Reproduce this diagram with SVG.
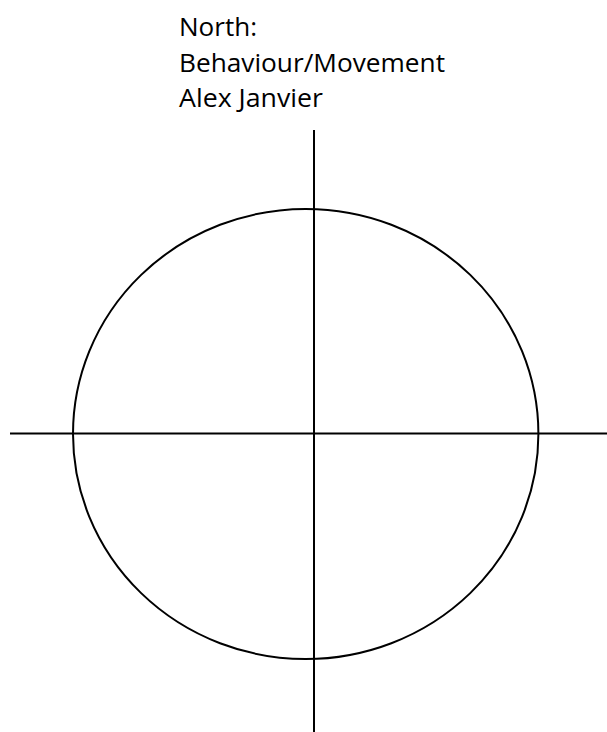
<svg xmlns="http://www.w3.org/2000/svg" width="607" height="732" viewBox="0 0 607 732">
<style>
.t{font-family:"Open Sans","Liberation Sans",sans-serif;font-size:25px;fill:#000}
.s{stroke:#000;stroke-width:2;fill:none}
</style>
<rect width="607" height="732" fill="#fff"/>
<g id="label">
<text class="t" x="179" y="36" textLength="78" lengthAdjust="spacingAndGlyphs">North:</text>
<text class="t" x="179" y="72" textLength="266" lengthAdjust="spacingAndGlyphs">Behaviour/Movement</text>
<text class="t" x="179" y="107" textLength="144" lengthAdjust="spacingAndGlyphs">Alex Janvier</text>
</g>
<g id="circle">
<ellipse class="s" cx="305.7" cy="434" rx="232.7" ry="225"/>
</g>
<g id="connectors">
<line class="s" x1="314" y1="130" x2="314" y2="732"/>
<line class="s" x1="10" y1="433.5" x2="607" y2="433.5"/>
</g>
</svg>
